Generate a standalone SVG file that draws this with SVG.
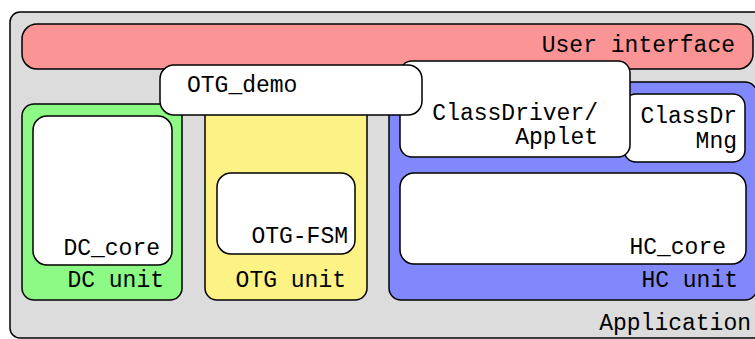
<svg xmlns="http://www.w3.org/2000/svg" width="755" height="339" viewBox="0 0 755 339">
<style>
.b{stroke:#000;stroke-width:1.5}
.t{font-family:"Liberation Mono","DejaVu Sans Mono",monospace;font-size:23px;fill:#000;text-anchor:end}
.s{text-anchor:start}
</style>
<rect width="755" height="339" fill="#fff"/>
<g id="application">
<rect class="b" x="10" y="12" width="760" height="326" rx="10" fill="#dcdcdc"/>
<text class="t" x="751" y="330">Application</text>
</g>
<g id="user-interface">
<rect class="b" x="22" y="24" width="731" height="45" rx="15" fill="#fb9494"/>
<text class="t" x="735" y="52">User interface</text>
</g>
<g id="dc-unit">
<rect class="b" x="22" y="104" width="160" height="196" rx="12" fill="#8cfa84"/>
<text class="t" x="164" y="287">DC unit</text>
</g>
<g id="dc-core">
<rect class="b" x="33" y="116" width="139" height="149" rx="14" fill="#fff"/>
<text class="t" x="160" y="255">DC_core</text>
</g>
<g id="otg-unit">
<rect class="b" x="205" y="104" width="162" height="196" rx="12" fill="#fdf384"/>
<text class="t" x="346" y="287">OTG unit</text>
</g>
<g id="otg-fsm">
<rect class="b" x="217" y="173" width="138" height="81" rx="14" fill="#fff"/>
<text class="t" x="348" y="243">OTG-FSM</text>
</g>
<g id="hc-unit">
<rect class="b" x="389" y="82" width="368" height="218" rx="12" fill="#8088fc"/>
<text class="t" x="738" y="287">HC unit</text>
</g>
<g id="hc-core">
<rect class="b" x="400" y="173" width="346" height="91" rx="14" fill="#fff"/>
<text class="t" x="726" y="254">HC_core</text>
</g>
<g id="classdrmng">
<rect class="b" x="624" y="94" width="121" height="68" rx="12" fill="#fff"/>
<text class="t" x="737" y="123">ClassDr</text>
<text class="t" x="737" y="148">Mng</text>
</g>
<g id="classdriver">
<rect class="b" x="400" y="61" width="230" height="96" rx="12" fill="#fff"/>
<text class="t" x="598" y="120">ClassDriver/</text>
<text class="t" x="598" y="144">Applet</text>
</g>
<g id="otg-demo">
<rect class="b" x="160" y="65" width="262" height="50" rx="14" fill="#fff"/>
<text class="t s" x="187" y="92">OTG_demo</text>
</g>
<g id="connectors"/>
</svg>
